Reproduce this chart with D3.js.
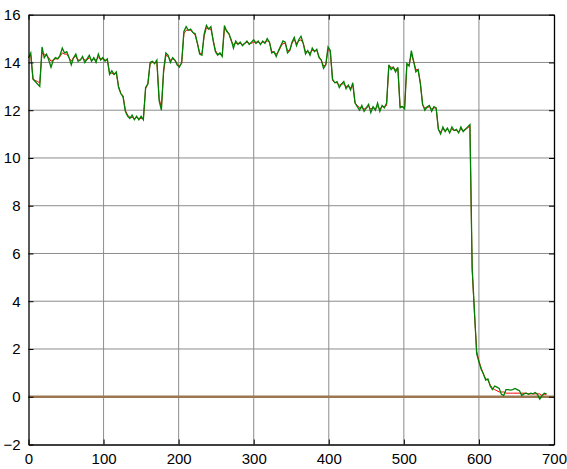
<!DOCTYPE html>
<html><head><meta charset="utf-8">
<script src="https://cdn.jsdelivr.net/npm/d3@7"></script>
<style>html,body{margin:0;padding:0;background:#fff;}svg{display:block;}</style>
</head><body>
<svg id="chart" width="567" height="469"></svg>
<script>
// ---- data ----
const xTicks = [0,100,200,300,400,500,600,700];
const yTicks = [-2,0,2,4,6,8,10,12,14,16];
const sampleStep = 3;
const greenValues = [
 14.2,14.4,13.3,13.2,13.1,13.0,14.65,14.2,14.35,14.1,
 13.8,14.1,14.2,14.15,14.3,14.6,14.4,14.45,14.2,13.9,
 14.2,14.35,14.05,14.1,14.25,14.0,14.15,14.3,14.05,14.2,
 14.0,14.35,14.1,14.2,14.05,14.15,13.5,13.65,13.5,13.6,
 12.95,12.7,12.55,11.95,11.75,11.65,11.8,11.6,11.75,11.6,
 11.75,11.6,12.95,13.1,14.0,14.05,13.95,14.1,12.4,12.0,
 13.7,14.4,14.3,14.0,14.2,14.1,13.9,13.8,14.0,15.3,
 15.5,15.35,15.4,15.25,15.2,14.8,14.35,14.3,15.2,15.55,
 15.4,15.5,14.9,14.45,14.3,14.4,14.25,15.55,15.3,15.2,
 14.95,14.6,14.9,14.75,14.85,14.7,14.8,14.9,14.75,14.85,
 14.95,14.8,14.9,14.75,14.9,14.8,15.0,14.85,14.4,14.45,
 14.25,14.5,14.7,14.9,14.85,14.4,14.5,14.85,15.05,14.7,
 14.95,15.1,14.8,14.35,14.5,14.3,14.6,14.45,14.55,14.2,
 14.1,13.75,13.9,14.65,14.5,13.3,13.15,13.2,12.95,13.1,
 13.2,12.9,13.05,12.85,13.15,12.3,12.15,12.0,12.2,11.95,
 12.1,12.25,11.9,12.15,12.0,12.3,11.95,12.2,12.1,12.3,
 13.9,13.7,13.8,13.6,13.8,12.1,12.15,12.05,13.95,13.85,
 14.5,14.05,13.6,13.7,13.1,12.25,12.0,12.15,12.2,11.95,
 12.15,12.1,11.2,11.0,11.3,11.1,11.25,11.05,11.3,11.15,
 11.2,11.05,11.3,11.1,11.2,11.3,11.4,5.4,3.6,1.8,
 1.45,1.15,0.95,0.7,0.75,0.45,0.3,0.45,0.4,0.35,
 0.1,0.05,0.3,0.3,0.28,0.3,0.35,0.3,0.25,0.05,
 0.12,0.15,0.1,0.15,0.12,0.18,0.1,-0.1,0.05,0.15,
 0.12
];
const redValues = [
 14.2,14.3,13.3,13.25,13.2,13.15,14.4,14.35,14.3,14.2,
 14.05,14.1,14.15,14.15,14.25,14.4,14.35,14.35,14.2,14.05,
 14.2,14.25,14.1,14.1,14.2,14.1,14.1,14.2,14.1,14.15,
 14.1,14.2,14.15,14.15,14.1,14.1,13.55,13.55,13.5,13.55,
 13.0,12.7,12.6,12.0,11.8,11.7,11.7,11.65,11.7,11.65,
 11.65,11.65,12.9,13.1,13.95,14.0,14.0,14.0,12.5,12.1,
 13.6,14.3,14.25,14.1,14.15,14.1,13.95,13.85,13.95,15.2,
 15.35,15.35,15.35,15.25,15.15,14.8,14.4,14.35,15.1,15.45,
 15.4,15.4,14.95,14.5,14.35,14.35,14.3,15.4,15.35,15.2,
 14.9,14.75,14.8,14.8,14.8,14.75,14.8,14.85,14.8,14.8,
 14.85,14.85,14.85,14.8,14.85,14.85,14.9,14.85,14.45,14.45,
 14.35,14.45,14.65,14.8,14.8,14.5,14.5,14.8,14.95,14.8,
 14.9,14.95,14.8,14.45,14.45,14.4,14.5,14.5,14.5,14.25,
 14.1,13.85,13.9,14.55,14.45,13.25,13.15,13.15,13.05,13.1,
 13.1,13.0,13.0,12.95,13.05,12.3,12.2,12.1,12.1,12.05,
 12.1,12.15,12.05,12.1,12.05,12.15,12.05,12.15,12.15,12.2,
 13.85,13.8,13.8,13.7,13.75,12.15,12.15,12.1,13.9,13.9,
 14.35,14.05,13.7,13.7,13.15,12.2,12.1,12.1,12.15,12.05,
 12.1,12.1,11.2,11.1,11.2,11.15,11.2,11.1,11.2,11.15,
 11.15,11.1,11.2,11.15,11.2,11.25,11.35,5.3,3.5,1.9,
 1.5,1.2,0.95,0.75,0.7,0.5,0.35,0.3,0.25,0.2,
 0.2,0.2,0.15,0.15,0.15,0.15,0.15,0.15,0.15,0.15,
 0.15,0.15,0.12,0.12,0.12,0.12,0.12,0.12,0.05,0.1,
 0.1
];
const baseX = [0, 700];
const baseY = [0, 0];

// ---- chart ----
const svg = d3.select("#chart");
const L = 28.5, R = 554, T = 14.7, B = 444.5;
const x = d3.scaleLinear().domain([0,700]).range([L,R]);
const y = d3.scaleLinear().domain([-2,16]).range([B,T]);

svg.append("rect").attr("x",0).attr("y",0).attr("width",567).attr("height",469).attr("fill","#fff");

// grid
const grid = svg.append("g");
grid.selectAll("line.gx").data(xTicks.slice(1,-1)).enter().append("line")
  .attr("x1",d=>x(d)).attr("x2",d=>x(d)).attr("y1",T).attr("y2",B)
  .attr("stroke","#8c8c8c").attr("stroke-width",1);
grid.selectAll("line.gy").data(yTicks.slice(1,-1)).enter().append("line")
  .attr("y1",d=>y(d)).attr("y2",d=>y(d)).attr("x1",L).attr("x2",R)
  .attr("stroke","#8c8c8c").attr("stroke-width",1);

// lines
const lineGen = d3.line().x(d=>x(d[0])).y(d=>y(d[1]));
const baseData = baseX.map((v,i)=>[v, baseY[i]]);
const redData = redValues.map((v,i)=>[i*sampleStep, v]);
const greenData = greenValues.map((v,i)=>[i*sampleStep, v]);

svg.append("path").datum(baseData).attr("d",lineGen)
  .attr("fill","none").attr("stroke","#9c7650").attr("stroke-width",2.5);
svg.append("path").datum(redData).attr("d",lineGen)
  .attr("fill","none").attr("stroke","#ff0000").attr("stroke-width",1);
svg.append("path").datum(greenData).attr("d",lineGen)
  .attr("fill","none").attr("stroke","#008000").attr("stroke-width",1.3);

// axes (MATLAB-like box, inward ticks)
const fontFam = "'Liberation Sans', Arial, sans-serif";
const xAxisB = d3.axisBottom(x).tickValues(xTicks).tickSizeInner(-5).tickSizeOuter(0).tickPadding(9);
const xAxisT = d3.axisTop(x).tickValues(xTicks).tickSizeInner(-5).tickSizeOuter(0).tickFormat("");
const yAxisL = d3.axisLeft(y).tickValues(yTicks).tickSizeInner(-5).tickSizeOuter(0).tickPadding(8);
const yAxisR = d3.axisRight(y).tickValues(yTicks).tickSizeInner(-5).tickSizeOuter(0).tickFormat("");

function style(g){
  g.selectAll("path.domain").attr("stroke","#000").attr("stroke-width",1.3);
  g.selectAll(".tick line").attr("stroke","#000");
  g.selectAll("text").attr("fill","#000").style("font-family",fontFam).style("font-size","15px");
}
svg.append("g").attr("transform",`translate(0,${B})`).call(xAxisB).call(style);
svg.append("g").attr("transform",`translate(0,${T})`).call(xAxisT).call(style);
svg.append("g").attr("transform",`translate(${L},0)`).call(yAxisL).call(style);
svg.append("g").attr("transform",`translate(${R},0)`).call(yAxisR).call(style);
</script>
</body></html>
